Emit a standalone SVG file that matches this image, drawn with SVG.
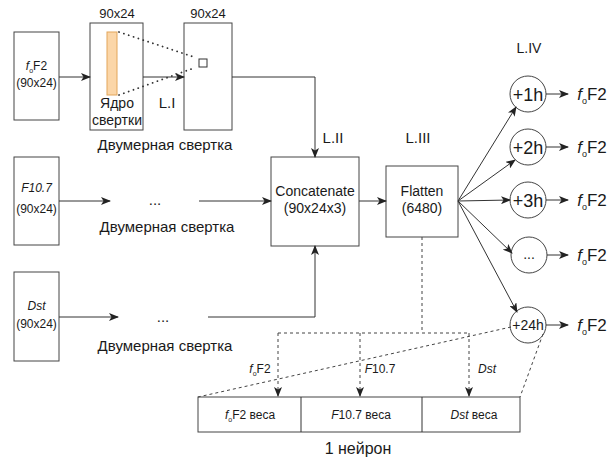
<svg xmlns="http://www.w3.org/2000/svg" width="616" height="461" viewBox="0 0 616 461">
<defs>
<style>
text{font-family:"Liberation Sans",Arial,sans-serif;fill:#1a1a1a;text-anchor:middle}
.box{fill:#fff;stroke:#444;stroke-width:1}
.ln{fill:none;stroke:#333;stroke-width:1}
.dot{fill:none;stroke:#333;stroke-width:1.8;stroke-dasharray:0.1 5;stroke-linecap:round}
.dsh{fill:none;stroke:#444;stroke-width:1;stroke-dasharray:3 3}
.s12{font-size:12px}.s13{font-size:13px}.s14{font-size:14px}.s15{font-size:15px}.s16{font-size:16px}.s18{font-size:18px}
.i{font-style:italic}
</style>
<marker id="ah" viewBox="0 0 10 8" refX="9" refY="4" markerWidth="10" markerHeight="8" markerUnits="userSpaceOnUse" orient="auto">
<path d="M0,0 L10,4 L0,8 L2.5,4 z" fill="#222"/>
</marker>
</defs>
<rect width="616" height="461" fill="#fff"/>

<g id="in-fof2">
<rect class="box" x="14" y="32" width="45" height="88"/>
<text class="s12" x="36.5" y="70"><tspan class="i">f</tspan><tspan font-size="7" dy="3">o</tspan><tspan dy="-3">F2</tspan></text>
<text class="s12" x="36.5" y="87">(90x24)</text>
</g>
<g id="in-f107">
<rect class="box" x="14" y="157" width="45" height="88"/>
<text class="s12 i" x="36.5" y="192">F10.7</text>
<text class="s12" x="36.5" y="213">(90x24)</text>
</g>
<g id="in-dst">
<rect class="box" x="14" y="272" width="45" height="89"/>
<text class="s12 i" x="36.5" y="310">Dst</text>
<text class="s12" x="36.5" y="328">(90x24)</text>
</g>

<g id="kernel">
<text class="s13" x="117" y="18">90x24</text>
<rect class="box" x="90" y="23" width="53" height="107"/>
<rect x="107" y="32" width="10" height="63" fill="#fbd6a8" stroke="#e3a65a" stroke-width="1"/>
<text class="s14" x="117" y="108">Ядро</text>
<text class="s14" x="117" y="125">свертки</text>
</g>
<g id="conv-out">
<text class="s13" x="208" y="18">90x24</text>
<rect class="box" x="184" y="23" width="48" height="107"/>
<rect x="199" y="59" width="8" height="8" fill="#fff" stroke="#333" stroke-width="1"/>
</g>
<g id="labels">
<text class="s15" x="167" y="108">L.I</text>
<text class="s15" x="165" y="150">Двумерная свертка</text>
<text class="s15" x="167" y="232">Двумерная свертка</text>
<text class="s15" x="165" y="351">Двумерная свертка</text>
<text class="s15" x="155" y="205">...</text>
<text class="s15" x="163" y="322">...</text>
<text class="s15" x="333" y="143">L.II</text>
<text class="s15" x="418" y="143">L.III</text>
<text class="s14" x="529" y="53">L.IV</text>
</g>

<g id="concat">
<rect class="box" x="271" y="157" width="88" height="89"/>
<text class="s14" x="315" y="196">Concatenate</text>
<text class="s14" x="315" y="213">(90x24x3)</text>
</g>
<g id="flatten">
<rect class="box" x="386" y="166" width="72" height="71"/>
<text class="s14" x="422" y="196">Flatten</text>
<text class="s14" x="422" y="213">(6480)</text>
</g>

<g id="out-1h">
<circle class="box" cx="528" cy="94" r="18"/>
<text class="s18" x="528" y="100.5">+1h</text>
</g>
<g id="out-2h">
<circle class="box" cx="528" cy="147" r="18"/>
<text class="s18" x="528" y="153.5">+2h</text>
</g>
<g id="out-3h">
<circle class="box" cx="528" cy="200" r="18"/>
<text class="s18" x="528" y="206.5">+3h</text>
</g>
<g id="out-dots">
<circle class="box" cx="529" cy="255" r="18"/>
<text class="s14" x="529" y="259">...</text>
</g>
<g id="out-24h">
<circle class="box" cx="528" cy="325" r="18"/>
<text class="s14" x="528" y="330">+24h</text>
</g>
<g id="out-labels">
<text font-size="17" x="592" y="100"><tspan class="i">f</tspan><tspan font-size="9" dy="4">o</tspan><tspan dy="-4">F2</tspan></text>
<text font-size="17" x="592" y="153"><tspan class="i">f</tspan><tspan font-size="9" dy="4">o</tspan><tspan dy="-4">F2</tspan></text>
<text font-size="17" x="592" y="206"><tspan class="i">f</tspan><tspan font-size="9" dy="4">o</tspan><tspan dy="-4">F2</tspan></text>
<text font-size="17" x="592" y="261"><tspan class="i">f</tspan><tspan font-size="9" dy="4">o</tspan><tspan dy="-4">F2</tspan></text>
<text font-size="17" x="592" y="331"><tspan class="i">f</tspan><tspan font-size="9" dy="4">o</tspan><tspan dy="-4">F2</tspan></text>
</g>

<g id="neuron">
<rect class="box" x="198" y="397" width="322" height="35"/>
<line class="ln" x1="301" y1="397" x2="301" y2="432"/>
<line class="ln" x1="422" y1="397" x2="422" y2="432"/>
<text class="s12" x="250" y="419"><tspan class="i">f</tspan><tspan font-size="7" dy="3">o</tspan><tspan dy="-3">F2 веса</tspan></text>
<text class="s12" x="361" y="419"><tspan class="i">F</tspan>10.7 веса</text>
<text class="s12" x="474" y="419"><tspan class="i">Dst</tspan> веса</text>
<text class="s16" x="358" y="454">1 нейрон</text>
<text class="s12" x="260" y="373"><tspan class="i">f</tspan><tspan font-size="7" dy="3">o</tspan><tspan dy="-3">F2</tspan></text>
<text class="s12" x="380" y="373"><tspan class="i">F</tspan>10.7</text>
<text class="s12 i" x="487" y="373">Dst</text>
</g>

<g id="connectors">
<line class="ln" x1="59" y1="77" x2="90" y2="77" marker-end="url(#ah)"/>
<line class="ln" x1="143" y1="77" x2="184" y2="77" marker-end="url(#ah)"/>
<line class="dot" x1="119" y1="32" x2="194" y2="57"/>
<line class="dot" x1="119" y1="95" x2="194" y2="68"/>
<polyline class="ln" points="232,77 315,77 315,157" marker-end="url(#ah)"/>
<line class="ln" x1="59" y1="201" x2="110" y2="201" marker-end="url(#ah)"/>
<line class="ln" x1="199" y1="201" x2="271" y2="201" marker-end="url(#ah)"/>
<line class="ln" x1="59" y1="317" x2="118" y2="317" marker-end="url(#ah)"/>
<polyline class="ln" points="208,317 315,317 315,246" marker-end="url(#ah)"/>
<line class="ln" x1="359" y1="201" x2="386" y2="201" marker-end="url(#ah)"/>
<line class="ln" x1="458" y1="201" x2="516" y2="107" marker-end="url(#ah)"/>
<line class="ln" x1="458" y1="201" x2="515" y2="160" marker-end="url(#ah)"/>
<line class="ln" x1="458" y1="201" x2="510" y2="200" marker-end="url(#ah)"/>
<line class="ln" x1="458" y1="201" x2="512" y2="253" marker-end="url(#ah)"/>
<line class="ln" x1="458" y1="201" x2="517" y2="312" marker-end="url(#ah)"/>
<line class="ln" x1="546" y1="94" x2="568" y2="94" marker-end="url(#ah)"/>
<line class="ln" x1="546" y1="147" x2="568" y2="147" marker-end="url(#ah)"/>
<line class="ln" x1="546" y1="200" x2="568" y2="200" marker-end="url(#ah)"/>
<line class="ln" x1="547" y1="255" x2="568" y2="255" marker-end="url(#ah)"/>
<line class="ln" x1="546" y1="325" x2="568" y2="325" marker-end="url(#ah)"/>
<polyline class="dsh" points="422,237 422,333"/>
<line class="dsh" x1="278" y1="333" x2="469" y2="333"/>
<line class="dsh" x1="278" y1="333" x2="278" y2="396" marker-end="url(#ah)"/>
<line class="dsh" x1="360" y1="333" x2="360" y2="396" marker-end="url(#ah)"/>
<line class="dsh" x1="469" y1="333" x2="469" y2="396" marker-end="url(#ah)"/>
<line class="dsh" x1="511" y1="327" x2="198" y2="397"/>
<line class="dsh" x1="543" y1="334" x2="520" y2="397"/>
</g>
</svg>
